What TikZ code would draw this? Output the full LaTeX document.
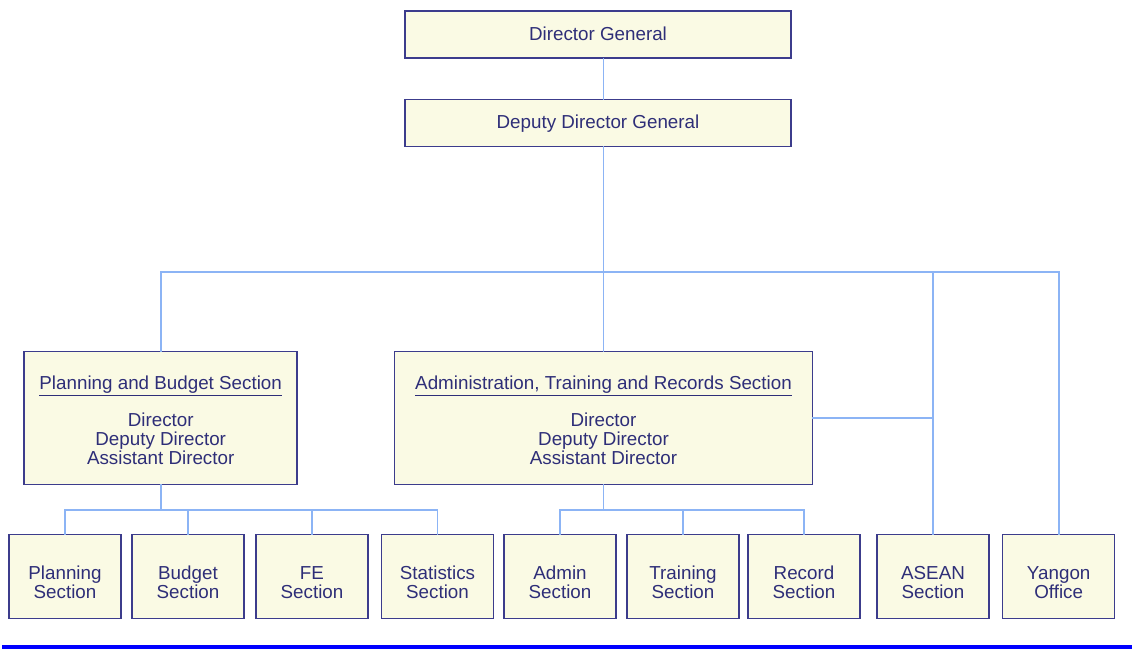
\documentclass[tikz,border=0pt]{standalone}
\usepackage{fontspec}
\setmainfont{Liberation Sans}
\usetikzlibrary{positioning}

\definecolor{boxfill}{RGB}{250,250,228}
\definecolor{boxline}{RGB}{60,60,140}
\definecolor{boxtext}{RGB}{46,46,120}
\definecolor{linkline}{RGB}{140,180,245}

\tikzset{
  unitbox/.style={draw=boxline, fill=boxfill, line width=0.75pt, text=boxtext,
    align=center, inner sep=0pt,
    font=\fontsize{9.4}{9.5}\selectfont},
  topbox/.style={unitbox, minimum width=193pt, minimum height=23.5pt,
    text height=6.8pt, text depth=1.2pt},
  secbox/.style={unitbox, minimum height=66.5pt,
    text height=48.7pt, text depth=2pt},
  subbox/.style={unitbox, minimum width=56pt, minimum height=42pt,
    text height=24.2pt, text depth=2pt},
  link/.style={draw=linkline, line width=0.8pt}
}

\begin{document}
\begin{tikzpicture}[x=0.5pt, y=-0.5pt, line cap=rect, line join=miter]

% ----------------- Frame (1132 x 649) -----------------
\useasboundingbox (0,0) rectangle (1132,649);

% ----------------- Parameters -----------------
\def\ysub{576.5}     % centre line of the bottom row
\def\ybus{272}       % main bus
\def\ysec{418}       % centre line of the section row

% ----------------- Top of the chart -----------------
\node[topbox] (dg)  at (598,34.5) {Director General};
\node[topbox] (ddg) at (598,123)  {Deputy Director General};

% ----------------- Sections -----------------
\node[secbox, minimum width=136.5pt] (pb) at (160.7,\ysec)
  {\underline{Planning and Budget Section}\\[7pt]
   Director\\ Deputy Director\\ Assistant Director};
\node[secbox, minimum width=209pt] (atr) at (603.5,\ysec)
  {\underline{Administration, Training and Records Section}\\[7pt]
   Director\\ Deputy Director\\ Assistant Director};

% ----------------- Bottom row -----------------
\node[subbox] (ps) at (65,\ysub)     {Planning\\ Section};
\node[subbox] (bs) at (188,\ysub)    {Budget\\ Section};
\node[subbox] (fs) at (312,\ysub)    {FE\\ Section};
\node[subbox] (ss) at (437.5,\ysub)  {Statistics\\ Section};
\node[subbox] (as) at (560,\ysub)    {Admin\\ Section};
\node[subbox] (ts) at (683,\ysub)    {Training\\ Section};
\node[subbox] (rs) at (804,\ysub)    {Record\\ Section};
\node[subbox] (es) at (933,\ysub)    {ASEAN\\ Section};
\node[subbox] (yo) at (1058.7,\ysub) {Yangon\\ Office};

% ----------------- Connectors -----------------
\draw[link] (dg.south -| atr) -- (ddg.north -| atr);
\draw[link] (ddg.south -| atr) -- (atr.north);

% main bus
\coordinate (bus) at (603.5,\ybus);
\draw[link] (pb.north) |- (bus) -| (yo.north);
\draw[link] (bus -| es.north) -- (es.north);
\draw[link] (atr.east) -- (atr.east -| es.north);

% planning and budget branch
\draw[link] (pb.south) -- ++(0,25) coordinate (pbbus);
\draw[link] (ps.north) |- (pbbus) -| (ss.north);
\draw[link] (bs.north) -- (bs.north |- pbbus);
\draw[link] (fs.north) -- (fs.north |- pbbus);

% administration, training and records branch
\draw[link] (atr.south) -- ++(0,25) coordinate (atrbus);
\draw[link] (as.north) |- (atrbus) -| (rs.north);
\draw[link] (ts.north) -- (ts.north |- atrbus);

% ----------------- Rule at the foot -----------------
\draw[blue, line width=1.6pt] (4,647) -- (1130,647);

\end{tikzpicture}
\end{document}
